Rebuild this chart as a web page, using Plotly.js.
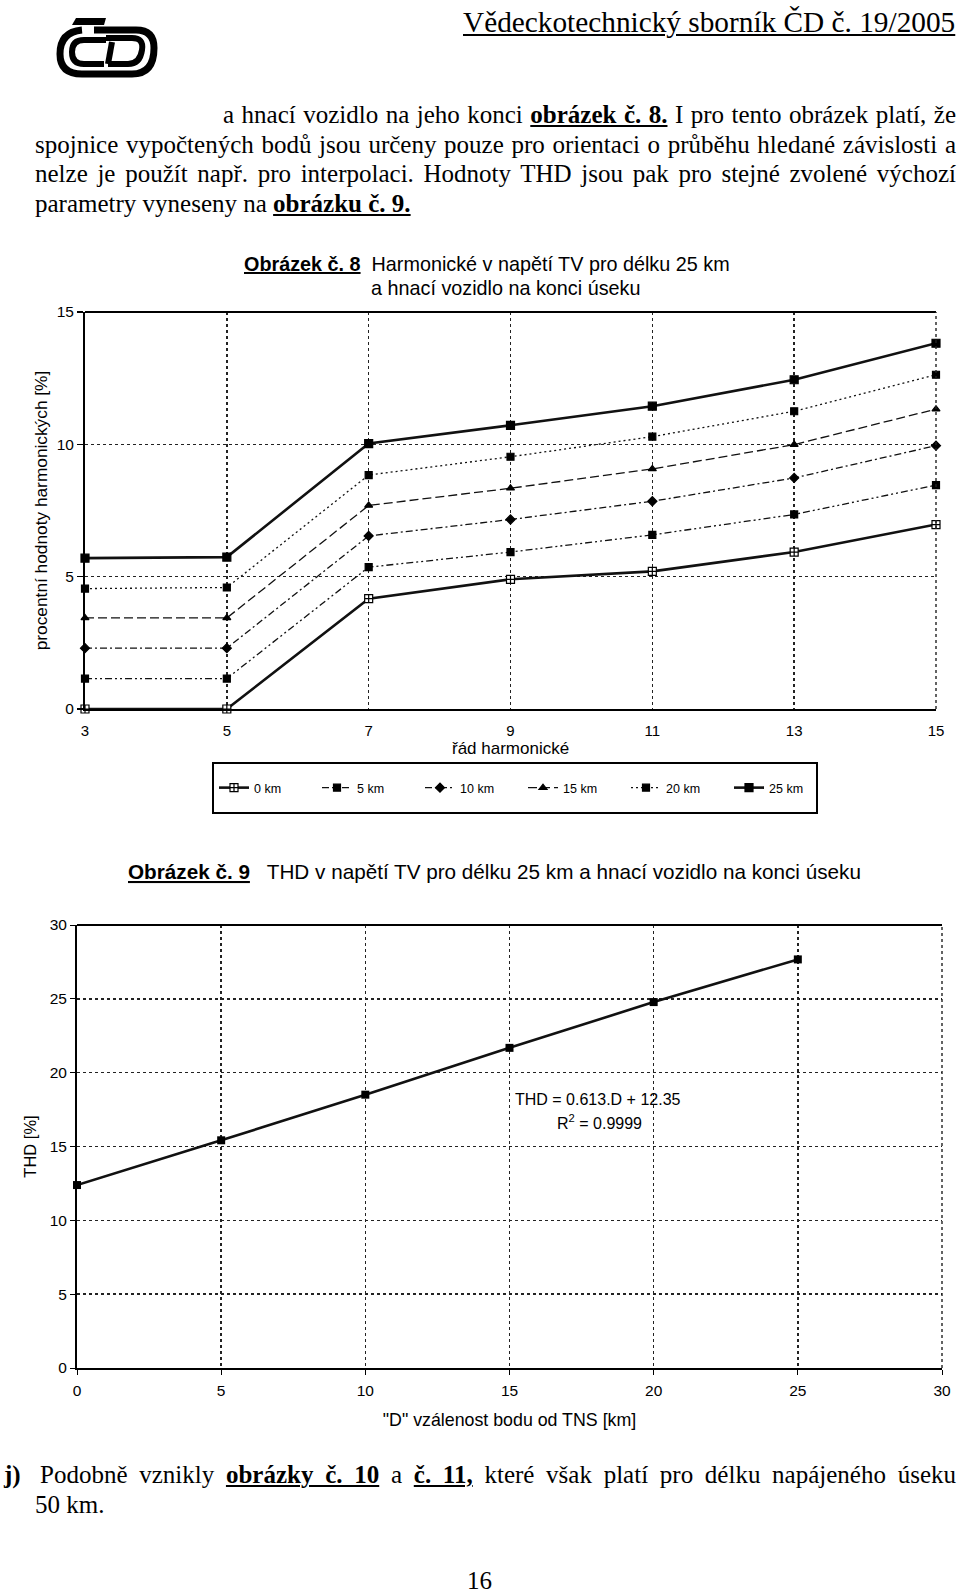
<!DOCTYPE html>
<html>
<head>
<meta charset="utf-8">
<script src="https://cdn.plot.ly/plotly-3.0.1.min.js"></script>
<style>
  html, body { margin:0; padding:0; background:#fff; }
  body { width:960px; height:1591px; position:relative; overflow:hidden; font-family:"Liberation Serif","Times New Roman",serif; color:#000; }
  .abs { position:absolute; }
  .line { position:absolute; white-space:nowrap; font-size:25px; line-height:29px; }
  .just { text-align:justify; text-align-last:justify; white-space:normal; height:29px; overflow:visible; }
  u { text-decoration-thickness:2px; text-underline-offset:2px; }
</style>
</head>
<body>
<svg class="abs" style="left:54px;top:12px" width="108" height="70" viewBox="0 0 108 70">
  <path d="M22 6 L52 6 L50 13 L18 13 Z" fill="#000"/>
  <path d="M40 18 L82 18 Q100 18 100 36 Q100 62 78 62 L28 62 Q6 62 6 42 Q6 20 28 18" fill="none" stroke="#000" stroke-width="7"/>
  <path d="M52 28 L30 28 Q18 28 18 40 Q18 52 30 52 L50 52" fill="none" stroke="#000" stroke-width="6"/>
  <path d="M52 26 L78 26 Q90 26 88 38 Q86 52 74 52 L54 52" fill="none" stroke="#000" stroke-width="6"/>
  <path d="M58 30 L54 52" stroke="#000" stroke-width="6"/>
</svg>
<div class="abs" style="left:463px;top:5px;font-size:29.3px;line-height:34px;white-space:nowrap;"><u style="text-decoration-thickness:1.5px">Vědeckotechnický sborník ČD č. 19/2005</u></div>

<div class="line just" style="left:223px;top:100px;width:733px;">a hnací vozidlo na jeho konci <b><u>obrázek č. 8.</u></b> I pro tento obrázek platí, že</div>
<div class="line just" style="left:35px;top:130px;width:921px;">spojnice vypočtených bodů jsou určeny pouze pro orientaci o průběhu hledané závislosti a</div>
<div class="line just" style="left:35px;top:159px;width:921px;">nelze je použít např. pro interpolaci. Hodnoty THD jsou pak pro stejné zvolené výchozí</div>
<div class="line" style="left:35px;top:189px;">parametry vyneseny na <b><u>obrázku č. 9.</u></b></div>

<div id="chart1" class="abs" style="left:0;top:236px;width:960px;height:594px;"></div>
<div id="chart2" class="abs" style="left:0;top:840px;width:960px;height:600px;"></div>

<div class="line" style="left:4px;top:1460px;"><b>j)</b></div>
<div class="line just" style="left:40px;top:1460px;width:916px;">Podobně vznikly <b><u>obrázky č. 10</u></b> a <b><u>č. 11,</u></b> které však platí pro délku napájeného úseku</div>
<div class="line" style="left:35px;top:1490px;">50 km.</div>
<div class="line" style="left:467px;top:1566px;">16</div>

<script>
// ---- Chart 1 data: harmonic order vs. percentage values ----
const harmonics = [3, 5, 7, 9, 11, 13, 15];
const km0  = [0.00, 0.00, 4.17, 4.90, 5.20, 5.93, 6.97];
const km5  = [1.15, 1.15, 5.36, 5.93, 6.58, 7.35, 8.46];
const km10 = [2.30, 2.30, 6.54, 7.16, 7.85, 8.73, 9.95];
const km15 = [3.44, 3.44, 7.69, 8.34, 9.07, 9.99, 11.33];
const km20 = [4.55, 4.59, 8.84, 9.53, 10.29, 11.25, 12.63];
const km25 = [5.70, 5.74, 10.03, 10.72, 11.44, 12.44, 13.82];
const seriesNames = ['0 km', '5 km', '10 km', '15 km', '20 km', '25 km'];
const xTicks1 = [3, 5, 7, 9, 11, 13, 15];
const yTicks1 = [0, 5, 10, 15];

// ---- Chart 2 data: distance vs THD ----
const distances = [0, 5, 10, 15, 20, 25];
const thd = [12.39, 15.42, 18.51, 21.68, 24.78, 27.67];
const xTicks2 = [0, 5, 10, 15, 20, 25, 30];
const yTicks2 = [0, 5, 10, 15, 20, 25, 30];

const sans = '"Liberation Sans",Arial,sans-serif';

const series = [km0, km5, km10, km15, km20, km25];
const styles = [
  {dash:'solid', width:2.6, symbol:'square-cross', mcolor:'#fff', msize:8},
  {dash:'7px,3px,2px,3px,2px,3px', width:1.3, symbol:'square', mcolor:'#000', msize:7},
  {dash:'7px,3px,2px,3px', width:1.3, symbol:'diamond', mcolor:'#000', msize:7},
  {dash:'9px,4px', width:1.3, symbol:'triangle-up', mcolor:'#000', msize:7},
  {dash:'2px,3px', width:1.3, symbol:'square', mcolor:'#000', msize:7},
  {dash:'solid', width:2.6, symbol:'square', mcolor:'#000', msize:8}
];
const traces1 = series.map((vals, i) => ({
  x: harmonics, y: vals, name: seriesNames[i], type: 'scatter', mode: 'lines+markers',
  line: {color: '#111', width: styles[i].width, dash: styles[i].dash},
  marker: {symbol: styles[i].symbol, size: styles[i].msize, color: styles[i].mcolor, line: {color: '#000', width: 1.2}},
  cliponaxis: false
}));

const P1 = {l: 85, t: 76, w: 851, h: 397};  // plot area of chart 1 inside its div
const layout1 = {
  width: 960, height: 594,
  margin: {l: P1.l, r: 960 - P1.l - P1.w, t: P1.t, b: 594 - P1.t - P1.h},
  paper_bgcolor: '#fff', plot_bgcolor: '#fff',
  showlegend: true,
  font: {family: sans, color: '#000', size: 14},
  xaxis: {
    range: [3, 15], tickvals: xTicks1, ticktext: xTicks1.map(String),
    showline: true, linecolor: '#000', linewidth: 2,
    showgrid: true, gridcolor: '#222', gridwidth: 1.4, griddash: 'dot',
    zeroline: false, ticks: '', ticklabelstandoff: 7, tickfont: {family: sans, size: 15}
  },
  yaxis: {
    range: [0, 15], tickvals: yTicks1, ticktext: yTicks1.map(String),
    showline: true, linecolor: '#000', linewidth: 2,
    showgrid: true, gridcolor: '#222', gridwidth: 1.4, griddash: 'dot',
    zeroline: false, ticks: 'outside', ticklen: 6, tickcolor: '#000', tickwidth: 1.2,
    tickfont: {family: sans, size: 15.5},
    title: {text: 'procentní hodnoty harmonických [%]', font: {family: sans, size: 17.3}, standoff: 5}
  },
  legend: {
    orientation: 'h', x: (523 - 85) / 851, xanchor: 'center', y: -(552 - 473) / 397, yanchor: 'middle',
    font: {family: sans, size: 12.5}, bgcolor: 'rgba(0,0,0,0)', borderwidth: 0,
    entrywidth: 58, entrywidthmode: 'pixels', itemwidth: 30
  },
  annotations: [
    {xref: 'paper', yref: 'paper', x: (487 - 85) / 851, y: 1 + (76 - 28) / 397, xanchor: 'center', yanchor: 'middle', showarrow: false,
     text: '<b><span style="text-decoration:underline">Obrázek č. 8</span></b>  Harmonické v napětí TV pro délku 25 km',
     font: {family: sans, size: 19.8, color: '#000'}},
    {xref: 'paper', yref: 'paper', x: (505 - 85) / 851, y: 1 + (76 - 52) / 397, xanchor: 'center', yanchor: 'middle', showarrow: false,
     text: 'a hnací vozidlo na konci úseku', font: {family: sans, size: 19.8, color: '#000'}},
    {xref: 'paper', yref: 'paper', x: (510 - 85) / 851, y: -(748 - 236 - 76 - 397) / 397, xanchor: 'center', yanchor: 'middle', showarrow: false,
     text: 'řád harmonické', font: {family: sans, size: 17, color: '#000'}}
  ],
  shapes: [
    {type: 'line', xref: 'paper', yref: 'paper', x0: 0, x1: 1, y0: 1, y1: 1, line: {color: '#000', width: 2}},
    {type: 'line', xref: 'paper', yref: 'paper', x0: 1, x1: 1, y0: 0, y1: 1, line: {color: '#222', width: 1.4, dash: 'dot'}},
    {type: 'rect', xref: 'paper', yref: 'paper', x0: (213 - 85) / 851, x1: (817 - 85) / 851,
     y0: -(813 - 236 - 76 - 397) / 397, y1: -(763 - 236 - 76 - 397) / 397, line: {color: '#000', width: 2}}
  ]
};

Plotly.newPlot('chart1', traces1, layout1, {staticPlot: true});

const trace2 = {
  x: distances, y: thd, type: 'scatter', mode: 'lines+markers', name: 'THD',
  line: {color: '#111', width: 2.6}, marker: {symbol: 'square', size: 8, color: '#000'},
  cliponaxis: false
};
const P2 = {l: 77, t: 85, w: 865, h: 443};
const layout2 = {
  width: 960, height: 600,
  margin: {l: P2.l, r: 960 - P2.l - P2.w, t: P2.t, b: 600 - P2.t - P2.h},
  paper_bgcolor: '#fff', plot_bgcolor: '#fff',
  showlegend: false,
  font: {family: sans, color: '#000', size: 14},
  xaxis: {
    range: [0, 30], tickvals: xTicks2, ticktext: xTicks2.map(String),
    showline: true, linecolor: '#000', linewidth: 2,
    showgrid: true, gridcolor: '#222', gridwidth: 1.4, griddash: 'dot',
    zeroline: false, ticks: 'outside', ticklen: 5, tickcolor: '#000', tickfont: {family: sans, size: 15.5},
    ticklabelstandoff: 2,
    title: {text: '"D" vzálenost bodu od TNS [km]', font: {family: sans, size: 17.8}, standoff: 16}
  },
  yaxis: {
    range: [0, 30], tickvals: yTicks2, ticktext: yTicks2.map(String),
    showline: true, linecolor: '#000', linewidth: 2,
    showgrid: true, gridcolor: '#222', gridwidth: 1.4, griddash: 'dot',
    zeroline: false, ticks: 'outside', ticklen: 5, tickcolor: '#000', tickfont: {family: sans, size: 15.5},
    title: {text: 'THD [%]', font: {family: sans, size: 16.5}, standoff: 9}
  },
  annotations: [
    {xref: 'paper', yref: 'paper', x: (494 - 77) / 865, y: 1 + (85 - 31) / 443, xanchor: 'center', yanchor: 'middle', showarrow: false,
     text: '<b><span style="text-decoration:underline">Obrázek č. 9</span></b>   THD v napětí TV pro délku 25 km a hnací vozidlo na konci úseku',
     font: {family: sans, size: 20.7, color: '#000'}},
    {xref: 'paper', yref: 'paper', x: (598 - 77) / 865, y: (1368 - 1099) / 443, xanchor: 'center', yanchor: 'middle', showarrow: false,
     text: 'THD = 0.613.D + 12.35', font: {family: sans, size: 16, color: '#000'}},
    {xref: 'paper', yref: 'paper', x: (599 - 77) / 865, y: (1368 - 1122) / 443, xanchor: 'center', yanchor: 'middle', showarrow: false,
     text: 'R<sup>2</sup> = 0.9999', font: {family: sans, size: 16, color: '#000'}}
  ],
  shapes: [
    {type: 'line', xref: 'paper', yref: 'paper', x0: 0, x1: 1, y0: 1, y1: 1, line: {color: '#000', width: 2}},
    {type: 'line', xref: 'paper', yref: 'paper', x0: 1, x1: 1, y0: 0, y1: 1, line: {color: '#222', width: 1.4, dash: 'dot'}}
  ]
};
Plotly.newPlot('chart2', [trace2], layout2, {staticPlot: true});
</script>
</body>
</html>
